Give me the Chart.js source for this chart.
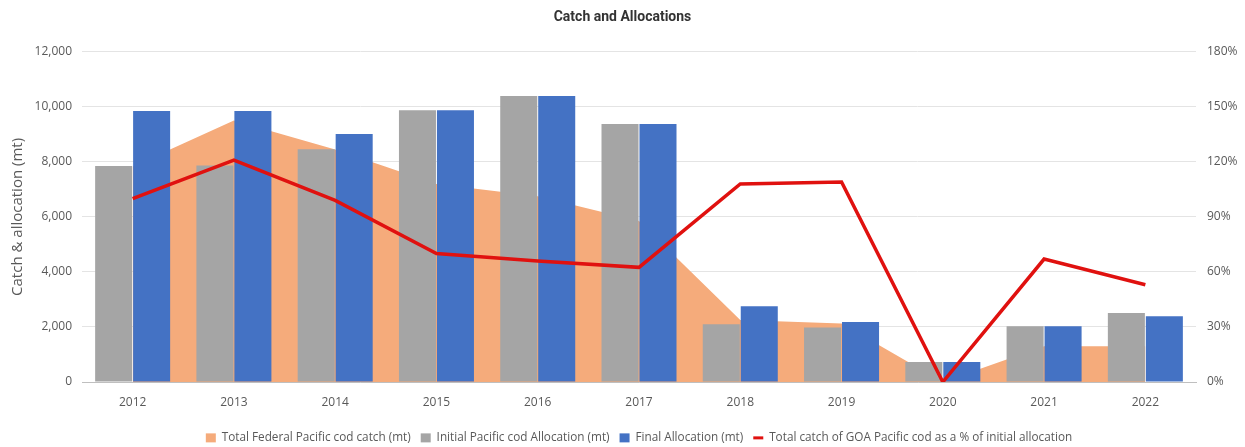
<!DOCTYPE html>
<html>
<head>
<meta charset="utf-8">
<script src="https://cdn.jsdelivr.net/npm/chart.js@4/dist/chart.umd.min.js"></script>
<style>
html,body{margin:0;padding:0;background:#ffffff;}
#c{display:block;}
</style>
</head>
<body>
<canvas id="c" width="1245" height="447"></canvas>
<script>
// ---- Data ----
const categories = ['2012','2013','2014','2015','2016','2017','2018','2019','2020','2021','2022'];
const federalCatch      = [7830, 9500, 8450, 7200, 6750, 5850, 2250, 2130, 0, 1300, 1300];
const initialAllocation = [7850, 7870, 8460, 9880, 10390, 9380, 2100, 1980, 730, 2025, 2510];
const finalAllocation   = [9850, 9850, 9010, 9880, 10390, 9380, 2750, 2180, 730, 2025, 2390];
const catchPctOfInitial = [100, 121, 99, 70, 66, 62.5, 108, 109, 0, 67, 53];
const leftTickValues  = [0, 2000, 4000, 6000, 8000, 10000, 12000];
const rightTickValues = [0, 30, 60, 90, 120, 150, 180];

const seriesNames = [
  'Total Federal Pacific cod catch (mt)',
  'Initial Pacific cod Allocation (mt)',
  'Final Allocation (mt)',
  'Total catch of GOA Pacific cod as a % of initial allocation'
];

const COL_ORANGE = '#F5AB7B';
const COL_GRAY = '#A5A5A5';
const COL_BLUE = '#4472C4';
const COL_RED = '#E0110F';
const TXT = '#595959';

Chart.defaults.font.family = "'Open Sans', 'Noto Sans', sans-serif";
Chart.defaults.color = TXT;

const ctx = document.getElementById('c').getContext('2d');
new Chart(ctx, {
  data: {
    labels: categories,
    datasets: [
      {
        type: 'line',
        label: seriesNames[0],
        data: federalCatch,
        yAxisID: 'y',
        fill: 'origin',
        backgroundColor: COL_ORANGE,
        borderColor: COL_ORANGE,
        borderWidth: 0,
        pointRadius: 0,
        tension: 0,
        order: 3
      },
      {
        type: 'bar',
        label: seriesNames[1],
        data: initialAllocation,
        yAxisID: 'y',
        backgroundColor: COL_GRAY,
        categoryPercentage: 0.75,
        barPercentage: 0.975,
        order: 2
      },
      {
        type: 'bar',
        label: seriesNames[2],
        data: finalAllocation,
        yAxisID: 'y',
        backgroundColor: COL_BLUE,
        categoryPercentage: 0.75,
        barPercentage: 0.975,
        order: 2
      },
      {
        type: 'line',
        label: seriesNames[3],
        data: catchPctOfInitial,
        yAxisID: 'y1',
        borderColor: COL_RED,
        backgroundColor: COL_RED,
        borderWidth: 3.5,
        pointRadius: 0,
        tension: 0,
        fill: false,
        legendLine: true,
        order: 1
      }
    ]
  },
  options: {
    responsive: false,
    animation: false,
    devicePixelRatio: 1,
    layout: { padding: { left: 0, right: 0, top: 0, bottom: 4 } },
    plugins: {
      tooltip: { enabled: false },
      title: {
        display: true,
        text: 'Catch and Allocations',
        color: '#333333',
        font: { family: "Roboto, 'Open Sans', sans-serif", size: 14, weight: 'bold' },
        padding: { top: 9, bottom: 26 }
      },
      legend: {
        position: 'bottom',
        fullSize: false,
        maxHeight: 21,
        labels: {
          usePointStyle: true,
          pointStyleWidth: 10,
          boxHeight: 9,
          padding: 10,
          color: TXT,
          font: { size: 11.75 },
          sort: (a, b) => a.datasetIndex - b.datasetIndex,
          generateLabels(chart) {
            const items = Chart.defaults.plugins.legend.labels.generateLabels(chart);
            items.forEach(it => {
              const ds = chart.data.datasets[it.datasetIndex];
              if (ds.legendLine) {
                it.pointStyle = 'line';
                it.strokeStyle = ds.borderColor;
                it.fillStyle = ds.borderColor;
                it.lineWidth = 3;
              } else {
                it.pointStyle = 'rect';
                it.fillStyle = ds.backgroundColor;
                it.strokeStyle = ds.backgroundColor;
                it.lineWidth = 0;
              }
            });
            return items;
          }
        }
      }
    },
    scales: {
      x: {
        type: 'category',
        offset: true,
        grid: { display: true, drawOnChartArea: false, drawTicks: false },
        border: { display: true, color: '#BFBFBF', width: 1 },
        ticks: { color: TXT, font: { size: 12 }, padding: 13, maxRotation: 0 },
        afterFit(scale) { scale.height = 40; }
      },
      y: {
        position: 'left',
        min: 0,
        max: 12000,
        afterBuildTicks(scale) { scale.ticks = leftTickValues.map(v => ({ value: v })); },
        grid: { color: '#E4E4E4', drawTicks: false, lineWidth: 1 },
        border: { display: false },
        ticks: {
          color: TXT,
          font: { size: 12 },
          padding: 10,
          callback: v => v.toLocaleString('en-US')
        },
        title: {
          display: true,
          text: 'Catch & allocation (mt)',
          color: TXT,
          font: { size: 15 },
          padding: { top: 9, bottom: 0 }
        },
        afterFit(scale) { scale.width = 82; }
      },
      y1: {
        position: 'right',
        min: 0,
        max: 180,
        afterBuildTicks(scale) { scale.ticks = rightTickValues.map(v => ({ value: v })); },
        grid: { drawOnChartArea: false, drawTicks: false },
        border: { display: false },
        ticks: {
          color: TXT,
          font: { size: 12 },
          padding: 11,
          callback: v => v + '%'
        },
        afterFit(scale) { scale.width = 49; }
      }
    }
  }
});
</script>
</body>
</html>
